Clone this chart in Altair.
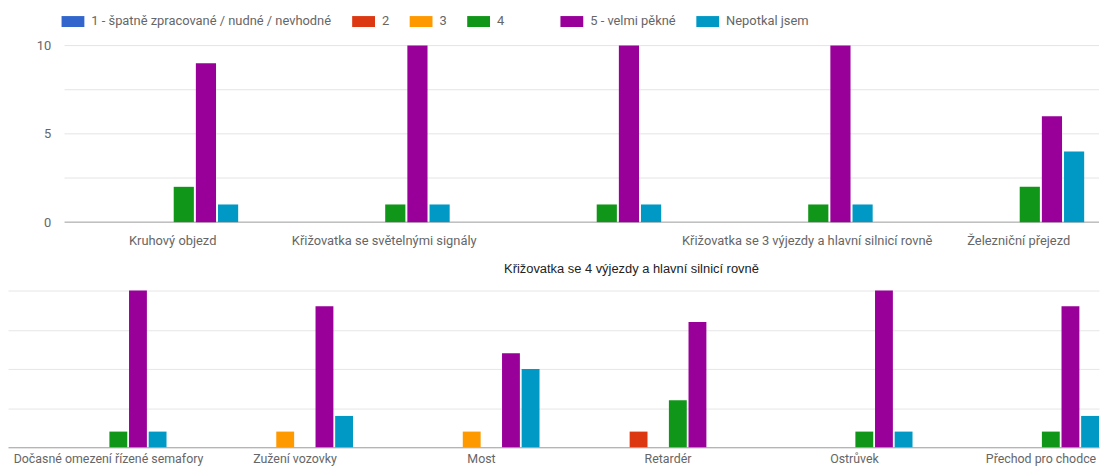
import altair as alt
import pandas as pd

ratings = ["1 - špatně zpracované / nudné / nevhodné", "2", "3", "4", "5 - velmi pěkné", "Nepotkal jsem"]
colors = ["#3366cc", "#dc3912", "#ff9900", "#109618", "#990099", "#0099c6"]

top_cats = ["Kruhový objezd", "Křižovatka se světelnými signály",
            "Křižovatka se 4 výjezdy a hlavní silnicí rovně",
            "Křižovatka se 3 výjezdy a hlavní silnicí rovně", "Železniční přejezd"]
top_r1 = [0, 0, 0, 0, 0]
top_r2 = [0, 0, 0, 0, 0]
top_r3 = [0, 0, 0, 0, 0]
top_r4 = [2, 1, 1, 1, 2]
top_r5 = [9, 10, 10, 10, 6]
top_r6 = [1, 1, 1, 1, 4]

bot_cats = ["Dočasné omezení řízené semafory", "Zužení vozovky", "Most",
            "Retardér", "Ostrůvek", "Přechod pro chodce"]
bot_r1 = [0, 0, 0, 0, 0, 0]
bot_r2 = [0, 0, 0, 1, 0, 0]
bot_r3 = [0, 1, 1, 0, 0, 0]
bot_r4 = [1, 0, 0, 3, 1, 1]
bot_r5 = [10, 9, 6, 8, 10, 9]
bot_r6 = [1, 2, 5, 0, 1, 2]

grid_values = [0, 2.5, 5, 7.5, 10]


def long(cats, series, names):
    rows = []
    for r, vals in zip(names, series):
        for c, v in zip(cats, vals):
            if v > 0:
                rows.append({"cat": c, "rating": r, "value": v})
    return pd.DataFrame(rows)


ratings_a, ratings_b = ratings[:4], ratings[4:]
colors_a, colors_b = colors[:4], colors[4:]

top_a = long(top_cats, [top_r1, top_r2, top_r3, top_r4], ratings_a)
top_b = long(top_cats, [top_r5, top_r6], ratings_b)
bot_a = long(bot_cats, [bot_r1, bot_r2, bot_r3, bot_r4], ratings_a)
bot_b = long(bot_cats, [bot_r5, bot_r6], ratings_b)
grid_df = pd.DataFrame({"value": grid_values})

stagger = top_cats[2]
W = 1100
AXIS_W = 57


def cond(val_stagger, val_other):
    return {"condition": {"test": f"datum.value == '{stagger}'", "value": val_stagger},
            "value": val_other}


def legend(x):
    return alt.Legend(
        orient="none", legendX=x, legendY=-36, direction="horizontal",
        columns=6, title=None, padding=0,
        symbolType="M-1,-0.48H1V0.48H-1Z", symbolSize=529,
        symbolStrokeWidth=0, symbolOpacity=1,
        labelFont="Roboto", labelFontSize=13, labelColor="#666666",
        labelOffset=7, columnPadding=20, labelLimit=400,
    )


color_a = alt.Color("rating:N", scale=alt.Scale(domain=ratings_a, range=colors_a),
                    legend=legend(54))
fill_b = alt.Fill("rating:N", scale=alt.Scale(domain=ratings_b, range=colors_b),
                  legend=legend(557))

top_y = alt.Scale(domain=[0, 10], nice=False)
top_y_axis = alt.Axis(title=None, values=grid_values, offset=-AXIS_W,
                      labelExpr="datum.value % 5 == 0 ? datum.label : ''",
                      ticks=False, domain=False, grid=False, labelPadding=14,
                      labelFont="Roboto", labelFontSize=13, labelColor="#666666")

top_x = alt.X("cat:N", sort=top_cats,
              scale=alt.Scale(domain=top_cats, paddingInner=0.381,
                              paddingOuter=0.2697, align=0.87),
              axis=alt.Axis(title=None, labelAngle=0, ticks=False, domain=False,
                            labelOverlap=False, labelLimit=500,
                            labelFont=cond("Liberation Sans", "Roboto"),
                            labelFontSize=cond(13, 13),
                            labelColor=cond("#222222", "#666666"),
                            labelPadding=cond(41, 13),
                            labelOffset=cond(36, 0)))
x_off = alt.XOffset("rating:N", scale=alt.Scale(domain=ratings, paddingInner=0.09))

top_grid = alt.Chart(grid_df).mark_rule(strokeWidth=1).encode(
    y=alt.Y("value:Q", scale=top_y, axis=top_y_axis),
    x=alt.value(AXIS_W),
    x2=alt.value(W),
    stroke=alt.condition("datum.value == 0", alt.value("#9a9a9a"), alt.value("#e4e4e4")),
)

top_bars_a = alt.Chart(top_a).mark_bar().encode(
    x=top_x, xOffset=x_off,
    y=alt.Y("value:Q", scale=top_y, axis=top_y_axis),
    color=color_a,
)
top_bars_b = alt.Chart(top_b).mark_bar().encode(
    x=top_x, xOffset=x_off,
    y=alt.Y("value:Q", scale=top_y, axis=top_y_axis),
    fill=fill_b,
)

top = alt.layer(top_grid, top_bars_a, top_bars_b).properties(width=W, height=178)

bot_x = alt.X("cat:N", sort=bot_cats,
              scale=alt.Scale(domain=bot_cats, paddingInner=0.378,
                              paddingOuter=0.114, align=1),
              axis=alt.Axis(title=None, labelAngle=0, ticks=False, domain=False,
                            labelOverlap=False, labelLimit=500, labelPadding=5,
                            labelFont="Roboto", labelFontSize=12.5, labelColor="#666666"))
bot_y = alt.Y("value:Q", scale=alt.Scale(domain=[0, 10], nice=False),
              axis=alt.Axis(title=None, values=grid_values, labels=False,
                            ticks=False, domain=False, grid=True,
                            minExtent=0, maxExtent=0,
                            gridColor={"condition": {"test": "datum.value == 0", "value": "#9a9a9a"},
                                       "value": "#e6e6e6"}))

bot_bars_a = alt.Chart(bot_a).mark_bar().encode(x=bot_x, xOffset=x_off, y=bot_y, color=color_a)
bot_bars_b = alt.Chart(bot_b).mark_bar().encode(x=bot_x, xOffset=x_off, y=bot_y, fill=fill_b)

bottom = alt.layer(bot_bars_a, bot_bars_b).properties(width=W, height=158)

chart = alt.vconcat(top, bottom, spacing=15).resolve_scale(
    x="independent", y="independent", xOffset="independent"
).properties(
    padding={"top": 0, "left": 0, "right": 0, "bottom": 0},
    background="white",
).configure_view(stroke=None)

chart.save("out.html", embed_options={"renderer": "svg", "actions": False})
